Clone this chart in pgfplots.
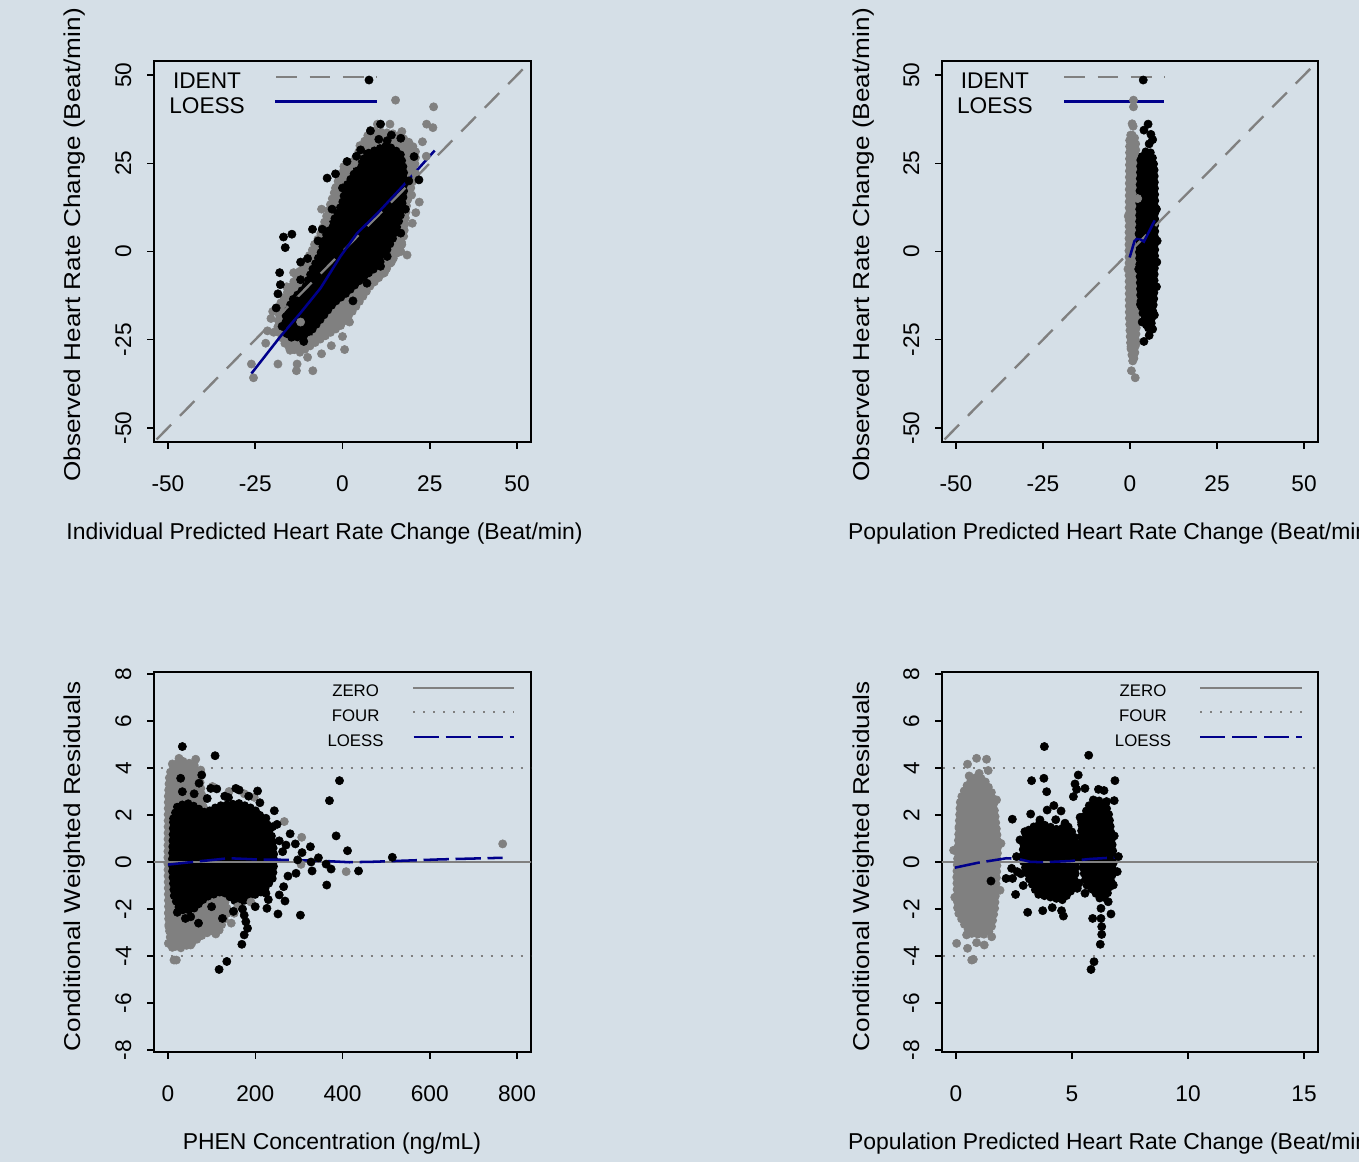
\documentclass[border=0pt]{standalone}
\usepackage{fontspec}
\setmainfont{Liberation Sans}
\usepackage{pgfplots}
\pgfplotsset{compat=1.18}
\definecolor{bgc}{RGB}{213,223,231}
\definecolor{rgray}{RGB}{128,128,128}
\definecolor{rnavy}{RGB}{0,0,139}
\tikzset{
  bigleg/.style={font=\fontsize{17bp}{20bp}\selectfont, anchor=center, inner sep=0pt},
  smallleg/.style={font=\fontsize{12.6bp}{15bp}\selectfont, anchor=center, inner sep=0pt},
}
\pgfplotsset{
  rbase/.style={
    scale only axis, anchor=south west,
    axis line style={line width=1.1bp, black},
    every tick/.style={line width=1.1bp, black},
    tick align=outside, major tick length=5bp,
    xtick pos=left, ytick pos=left,
    tick label style={font=\fontsize{17bp}{20bp}\selectfont, inner sep=0pt},
    xticklabel style={anchor=north, yshift=-20bp},
    yticklabel style={xshift=-11.8bp, rotate=90, anchor=south},
    label style={font=\fontsize{17.2bp}{20bp}\selectfont},
  },
  gpts/.style={only marks, mark=*, mark size=3.1bp, color=rgray},
  bpts/.style={only marks, mark=*, mark size=3.1bp, color=black},
  gcore/.style={fill=rgray, draw=rgray, line width=6.2bp, line cap=round, line join=round, dash pattern=on 0bp off 4.6bp, mark=none},
  bcore/.style={fill=black, draw=black, line width=6.2bp, line cap=round, line join=round, dash pattern=on 0bp off 4.6bp, mark=none},
  identl/.style={rgray, line width=1.75bp, dash pattern=on 15.5bp off 9.5bp, mark=none},
  loessl/.style={rnavy, line width=1.9bp, mark=none},
  zerol/.style={rgray, line width=1.75bp, mark=none},
  fourl/.style={rgray, line width=1.75bp, dash pattern=on 1.7bp off 5.8bp, mark=none},
  loessd/.style={rnavy, line width=1.9bp, dash pattern=on 19bp off 5bp, mark=none},
}
\begin{document}
\begin{tikzpicture}
\useasboundingbox (0,0) rectangle (1019.25bp,871.5bp);
\fill[bgc] (0,0) rectangle (1019.25bp,871.5bp);

% ---------------- Panel 1 ----------------
\begin{axis}[rbase, at={(115.5bp,540bp)}, width=282.75bp, height=285.75bp,
  xmin=-54, xmax=54, ymin=-54, ymax=54,
  xtick={-50,-25,0,25,50}, xticklabels={-50,-25,0,25,50},
  ytick={-50,-25,0,25,50}, yticklabels={-50,-25,0,25,50},
  xlabel={Individual Predicted Heart Rate Change (Beat/min)},
  xlabel style={anchor=center, at={(axis description cs:0.4523,-0.2415)}},
  ylabel={Observed Heart Rate Change (Beat/min)},
  ylabel style={anchor=center, at={(axis description cs:-0.2095,0.517)}, xscale=1.14}]
\addplot[gcore] coordinates {(8.0,34.4) (3.3,26.0) (-0.6,22.1) (-2.5,16.5) (-4.4,10.8) (-6.3,5.1) (-9.2,-0.5) (-12.1,-5.2) (-14.9,-10.0) (-17.8,-14.6) (-18.7,-22.2) (-16.2,-26.8) (-12.1,-28.7) (-6.3,-24.9) (-0.6,-21.2) (3.3,-16.5) (8.0,-9.8) (11.9,-6.1) (15.7,-0.4) (17.6,4.2) (18.5,13.7) (20,19.3) (21,25.9) (21,29) (18.6,31.5) (14.8,33.4) (8.0,34.4)};
\addplot[gpts] coordinates {(-26.1,-31.9) (-25.5,-35.8) (-18.5,-31.9) (-13.0,-31.9) (-13.2,-33.8) (-8.5,-33.8) (-3.2,-26.7) (0.6,-27.8) (0,-24.1) (1.7,-17.9) (15.2,42.9) (26.1,41.0) (24.1,36.1) (25.9,35.1) (22.9,31.1) (19.8,16.0) (16.7,0) (13.6,36.1) (10.0,36.1) (-11.1,-3.8) (-19.7,-22.9) (-4.9,8.0) (0.4,24.1) (3.3,25.0) (-21.5,-22.5) (-10,-30) (-6,-29) (4,-14) (6,-12) (9,-8) (12,-6) (17,2) (20,8) (22,14) (21,22) (19,29) (24,27) (-8,2) (-14,-6) (-16,-10) (-20,-17) (-22,-26) (-15,-28) (-4,-22) (2,-20) (14,-3) (-2,18) (-6,12) (5,30) (9,33) (17,34) (13,-2) (-12,-20) (-9,-25) (-20.5,-19) (18.5,-1) (21,11)};
\addplot[bcore] coordinates {(7.1,27.8) (3.3,22.1) (0.9,18.3) (-0.1,13.6) (-2.5,8.9) (-4.9,4.2) (-6.3,-0.5) (-8.7,-5.2) (-10.6,-10.0) (-14.4,-13.7) (-16.3,-18.4) (-16.3,-23.1) (-14.5,-24.5) (-10.2,-24.0) (-6.3,-19.3) (-2.5,-14.6) (1.3,-11.7) (5.2,-8.0) (10.0,-4.2) (12.3,-0.5) (14.7,4.2) (16.6,9.9) (17.6,16.5) (17.6,23.1) (16.6,27.8) (12.8,30.1) (7.1,27.8)};
\addplot[bpts] coordinates {(-4.4,20.8) (-16.9,4.1) (-14.5,4.9) (-16.4,1.1) (-8.6,6.3) (-5.8,6.3) (7.6,48.6) (8.0,34.2) (10.9,36.1) (10.4,31.8) (12.8,31.4) (16.7,32.1) (5.2,28.8) (1.3,25.5) (-17.8,-9.4) (-17.3,-21.2) (-11.1,-25.5) (-14.0,-23.1) (10.9,-4.2) (12.8,-1.4) (16.7,5.2) (21.9,20.3) (20.5,26.9) (-18.5,-12) (-19,-16) (-12,-8) (-10,-2) (-7,3) (2,-10) (6,-6) (9,-3) (18,12) (19,20) (14,33) (4,27) (-2,22) (-18,-6) (-13,-14) (-8,-20) (-15,-18) (3,-14) (-10,-18) (-12,-3) (-3,12) (0,18) (-6,-14) (-1,-13) (7,-9)};
\addplot[identl] coordinates {(-60,-60) (60,60)};
\addplot[loessl] coordinates {(-26.1,-34.6) (-17.8,-24.1) (-12.1,-17.5) (-6.3,-10.4) (-0.6,-1.4) (4.2,5.2) (10.0,10.8) (17.6,18.9) (26.4,28.6)};
\addplot[identl] coordinates {(-19.0,49.5) (9.8,49.5)};
\addplot[loessl] coordinates {(-19.3,42.5) (9.8,42.5)};
\node[bigleg] at (axis cs:-38.8,48.4) {IDENT};
\node[bigleg] at (axis cs:-38.8,41.3) {LOESS};
\end{axis}

% ---------------- Panel 2 ----------------
\begin{axis}[rbase, at={(706.5bp,540bp)}, width=282bp, height=285.75bp,
  xmin=-54, xmax=54, ymin=-54, ymax=54,
  xtick={-50,-25,0,25,50}, xticklabels={-50,-25,0,25,50},
  ytick={-50,-25,0,25,50}, yticklabels={-50,-25,0,25,50},
  xlabel={Population Predicted Heart Rate Change (Beat/min)},
  xlabel style={anchor=center, at={(axis description cs:0.4523,-0.2415)}},
  ylabel={Observed Heart Rate Change (Beat/min)},
  ylabel style={anchor=center, at={(axis description cs:-0.2095,0.517)}, xscale=1.14}]
\addplot[gcore] coordinates {(-0.2,31.5) (-0.3,19.3) (-0.4,0.5) (-0.3,-18.4) (0.1,-27.0) (0.8,-31.5) (1.4,-29.7) (1.9,-22.1) (2.1,-9.0) (2.1,9.9) (1.9,24.1) (1.7,31.5) (0.9,33.4) (-0.2,31.5)};
\addplot[gpts] coordinates {(1.0,42.9) (1.0,41.0) (0.6,36.2) (0.9,35.5) (0.2,33) (0.4,-33.8) (1.5,-35.8) (0.8,-31) (1.2,-29) (0.3,-27) (1.8,-26) (-0.5,10) (-0.6,-5) (2.2,15)};
\addplot[bcore] coordinates {(3.0,25.9) (2.7,14.6) (2.6,0.5) (3.0,-13.7) (3.6,-17.4) (4.98,-22.1) (6.3,-20.2) (6.9,-13.7) (7.2,0.5) (7.2,14.6) (7.0,24.1) (6.3,27.8) (4.98,28.7) (3.8,27.8) (3.0,25.9)};
\addplot[bpts] coordinates {(3.8,48.6) (5.2,36.1) (4.0,34.4) (6.0,33.2) (6.5,31.7) (5.5,30.5) (4.0,-25.5) (5.5,-23.8) (6.5,-22) (3.5,-20) (7,-18) (3.0,-15) (7.6,-10) (2.6,5) (7.8,3) (7.7,-3) (7.6,12) (2.5,-5)};
\addplot[identl] coordinates {(-60,-60) (60,60)};
\addplot[loessl] coordinates {(-0.1,-1.7) (1.3,3.0) (2.3,3.8) (4.0,2.8) (7.1,8.8)};
\addplot[identl] coordinates {(-18.9,49.5) (9.9,49.5)};
\addplot[loessl] coordinates {(-18.9,42.5) (9.9,42.5)};
\node[bigleg] at (axis cs:-38.8,48.4) {IDENT};
\node[bigleg] at (axis cs:-38.8,41.3) {LOESS};
\end{axis}

% ---------------- Panel 3 ----------------
\begin{axis}[rbase, at={(115.5bp,82.5bp)}, width=282.75bp, height=285bp,
  xmin=-32, xmax=832, ymin=-8.08, ymax=8.08,
  xtick={0,200,400,600,800}, xticklabels={0,200,400,600,800},
  ytick={-8,-6,-4,-2,0,2,4,6,8}, yticklabels={-8,-6,-4,-2,0,2,4,6,8},
  xlabel={PHEN Concentration (ng/mL)},
  xlabel style={anchor=center, at={(axis description cs:0.472,-0.242)}},
  ylabel={Conditional Weighted Residuals},
  ylabel style={anchor=center, at={(axis description cs:-0.2095,0.489)}, xscale=1.14}]
\addplot[gcore] coordinates {(0,2.8) (3,3.75) (14,4.15) (33,4.3) (60,4.15) (72,3.75) (80,2.55) (102,0.09) (125,-1.3) (138,-2.1) (118,-2.9) (84,-3.05) (55.9,-3.45) (25.3,-3.7) (6,-3.45) (1,-2.65) (-1,0.09) (0,2.8)};
\addplot[gpts] coordinates {(10.0,4.17) (25.3,4.41) (63.6,4.37) (25.3,3.91) (75.1,3.91) (52.1,3.28) (101.9,3.21) (197.7,2.75) (266.6,1.72) (306.5,1.05) (305.0,-0.1) (408.4,-0.41) (767.1,0.77) (13.8,-4.17) (19.2,-4.17) (1,-3.46) (10,-3.63) (33,-3.46) (52.1,-3.53) (75.1,-3.04) (109.6,-3.06) (117.2,-2.89) (117.2,-2.61) (151.7,-2.18) (86.6,-2.33) (48.3,-3.18) (2.3,-2.75) (1,-2.18) (160,-1.9) (140,3.0) (175,2.9) (190,-1.7) (145,-2.6)};
\addplot[bcore] coordinates {(12,1.85) (22,2.4) (48.3,2.5) (86.6,2.1) (117.2,2.4) (163.2,2.5) (198,2.25) (226,1.7) (240,1.0) (244,0.09) (240,-0.7) (218,-1.25) (186.2,-1.5) (163.2,-1.8) (124.9,-1.25) (86.6,-1.5) (55.9,-2.05) (28,-2.05) (14,-1.5) (9,-0.2) (12,1.85)};
\addplot[bpts] coordinates {(33,4.91) (108,4.52) (77.4,3.70) (29.1,3.56) (33,2.99) (71.3,3.35) (98.1,3.13) (111.9,3.11) (155.5,3.13) (163.2,3.06) (205.4,3.02) (138.7,2.74) (210.7,2.52) (243.7,2.18) (224.5,1.86) (239.9,1.50) (262.8,0.44) (270.5,0.72) (291.9,0.77) (307.3,0.40) (326.4,0.65) (344.8,0.18) (370.1,2.61) (393.1,3.46) (385.4,1.11) (411.5,0.48) (436.8,-0.38) (330.3,-0.38) (362.4,-0.09) (373.9,-0.3) (363.9,-0.98) (303.5,-2.26) (252.1,-2.21) (268.2,-1.66) (226.8,-1.97) (265.1,-1.05) (169.3,-3.5) (174.7,-3.1) (182.4,-2.82) (178.5,-2.54) (174.7,-2.26) (170.9,-2.0) (124.9,-2.40) (134.9,-4.23) (117.2,-4.57) (21.5,-2.14) (52.1,-2.33) (514.2,0.2) (293.5,-0.48) (297.3,0.09) (328,0) (224.5,-1.33) (60,2.9) (90,2.7) (130,2.8) (185,2.8) (250,1.6) (255,0.9) (230,-1.6) (200,-1.9) (150,-2.1) (100,-1.9) (40,-2.4) (70,-2.6) (280,1.2) (275,-0.6) (255,-1.4)};
\addplot[zerol] coordinates {(-40,0) (840,0)};
\addplot[fourl] coordinates {(-40,4) (840,4)};
\addplot[fourl] coordinates {(-40,-4) (840,-4)};
\addplot[loessd] coordinates {(0,-0.11) (55.9,0) (140.2,0.16) (201.5,0.11) (278.2,0.09) (362.4,0.04) (416,-0.01) (469.8,0.01) (623,0.11) (767,0.18)};
\addplot[zerol] coordinates {(561.6,7.40) (793.1,7.40)};
\addplot[fourl] coordinates {(561.6,6.37) (793.1,6.37)};
\addplot[loessd] coordinates {(563,5.31) (793.1,5.31)};
\node[smallleg] at (axis cs:430,7.29) {ZERO};
\node[smallleg] at (axis cs:430,6.23) {FOUR};
\node[smallleg] at (axis cs:430,5.17) {LOESS};
\end{axis}

% ---------------- Panel 4 ----------------
\begin{axis}[rbase, at={(706.5bp,82.5bp)}, width=282bp, height=285bp,
  xmin=-0.6, xmax=15.6, ymin=-8.08, ymax=8.08,
  xtick={0,5,10,15}, xticklabels={0,5,10,15},
  ytick={-8,-6,-4,-2,0,2,4,6,8}, yticklabels={-8,-6,-4,-2,0,2,4,6,8},
  xlabel={Population Predicted Heart Rate Change (Beat/min)},
  xlabel style={anchor=center, at={(axis description cs:0.4523,-0.242)}},
  ylabel={Conditional Weighted Residuals},
  ylabel style={anchor=center, at={(axis description cs:-0.2095,0.489)}, xscale=1.14}]
\addplot[gcore] coordinates {(0.12,1.5) (0.18,2.65) (0.42,3.2) (0.75,3.6) (1.2,3.55) (1.55,2.95) (1.68,2.15) (1.82,0.79) (1.76,-0.62) (1.68,-2.0) (1.52,-2.9) (1.18,-3.1) (0.65,-3.05) (0.35,-2.65) (0.06,-2.1) (0.02,-0.62) (0.12,1.5)};
\addplot[gpts] coordinates {(0.5,4.16) (0.89,4.41) (1.32,4.37) (1.0,3.77) (1.39,3.89) (0.57,3.66) (0.03,-3.46) (0.5,-3.67) (0.68,-4.17) (0.75,-4.14) (0.89,-3.43) (1.22,-3.53) (1.54,-3.18) (0.46,-3.1) (1.94,0.79) (1.75,2.64) (-0.1,0.5) (-0.05,-1.5) (1.9,-1.2)};
\addplot[bcore] coordinates {(2.9,0.9) (3.15,1.4) (3.62,1.65) (4.34,1.4) (4.85,1.5) (5.1,1.15) (5.2,0.6) (5.15,-0.6) (4.95,-1.25) (4.6,-1.62) (4.05,-1.5) (3.52,-1.38) (3.15,-0.72) (2.87,0.09) (2.9,0.9)};
\addplot[bcore] coordinates {(5.4,1.7) (5.7,2.38) (6.06,2.65) (6.42,2.52) (6.6,2.0) (6.72,1.05) (6.8,0.09) (6.72,-0.72) (6.52,-1.4) (6.25,-1.62) (5.95,-1.25) (5.62,-0.98) (5.45,-0.2) (5.4,0.75) (5.4,1.7)};
\addplot[bpts] coordinates {(3.81,4.91) (5.72,4.54) (3.26,3.46) (3.79,3.56) (3.91,2.99) (5.27,3.70) (5.13,3.32) (5.2,3.09) (5.06,2.78) (6.85,3.46) (6.82,2.61) (5.56,3.13) (6.14,3.09) (6.38,3.04) (4.22,2.4) (4.53,2.17) (3.22,2.04) (2.43,1.82) (3.93,2.21) (3.62,1.79) (4.7,1.65) (2.97,1.29) (2.76,0.94) (2.61,0.23) (2.4,-0.27) (2.16,-0.7) (1.51,-0.81) (2.64,-0.41) (2.44,-0.7) (2.57,-1.38) (2.9,-1.0) (3.09,-2.14) (3.74,-2.07) (4.15,-1.94) (4.55,-2.07) (4.63,-2.3) (5.89,-2.4) (6.25,-1.97) (6.25,-2.4) (6.28,-2.75) (6.28,-3.08) (6.22,-3.5) (5.95,-4.24) (5.82,-4.57) (6.68,-2.21) (6.56,-1.69) (6.78,-0.98) (6.95,-0.41) (7.0,0.23) (6.82,1.11) (6.49,2.57) (5.92,2.64) (5.56,-1.33) (5.23,-1.12) (5.35,1.9) (5.3,-0.9) (2.8,-0.5) (4.3,1.8)};
\addplot[zerol] coordinates {(-1,0) (16,0)};
\addplot[fourl] coordinates {(-1,4) (16,4)};
\addplot[fourl] coordinates {(-1,-4) (16,-4)};
\addplot[loessd] coordinates {(-0.04,-0.24) (0.96,-0.03) (2.18,0.16) (2.69,0.13) (3.19,0.01) (3.76,-0.01) (4.91,0.04) (5.78,0.13) (7.0,0.2)};
\addplot[zerol] coordinates {(10.52,7.40) (14.9,7.40)};
\addplot[fourl] coordinates {(10.52,6.37) (14.9,6.37)};
\addplot[loessd] coordinates {(10.52,5.31) (14.9,5.31)};
\node[smallleg] at (axis cs:8.06,7.29) {ZERO};
\node[smallleg] at (axis cs:8.06,6.23) {FOUR};
\node[smallleg] at (axis cs:8.06,5.17) {LOESS};
\end{axis}
\end{tikzpicture}
\end{document}
